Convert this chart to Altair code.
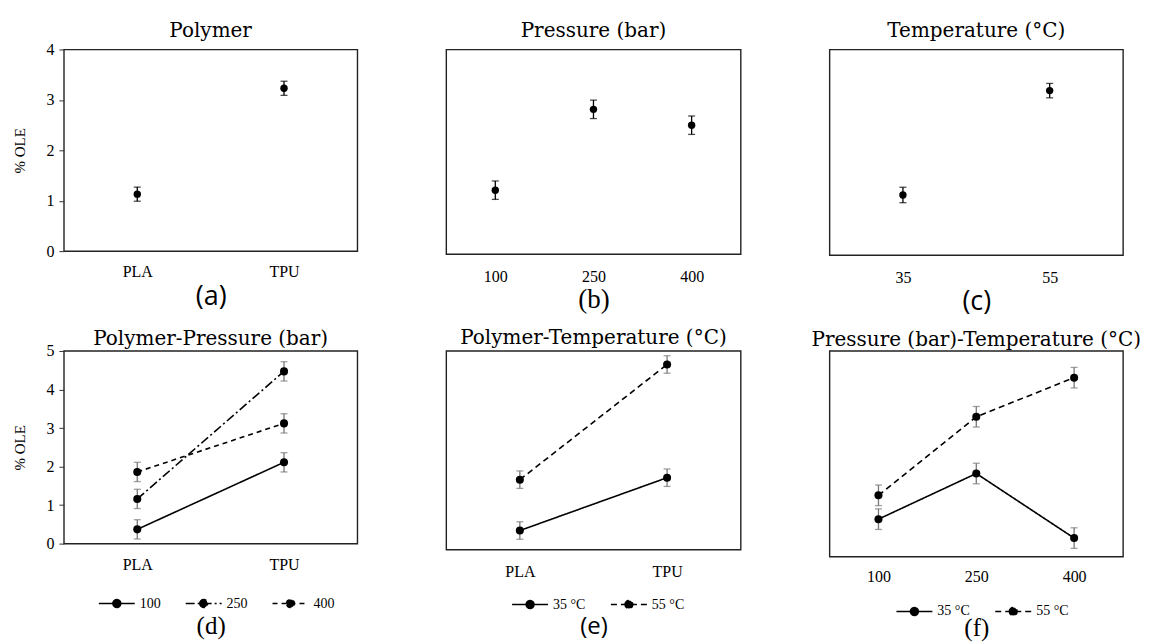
import altair as alt
import pandas as pd

# ---------------- data ----------------
polymer_cats = ["PLA", "TPU"]
polymer_ole = [1.13, 3.23]
polymer_err = [0.14, 0.14]

pressure_cats = ["100", "250", "400"]
pressure_ole = [1.25, 2.83, 2.52]
pressure_err = [0.18, 0.18, 0.18]

temp_cats = ["35", "55"]
temp_ole = [1.17, 3.20]
temp_err = [0.15, 0.14]

# (d) Polymer x Pressure
pp_series = ["100", "250", "400"]
pp_100 = [0.37, 2.11]
pp_250 = [1.16, 4.47]
pp_400 = [1.86, 3.12]
pp_err = 0.25

# (e) Polymer x Temperature
pt_series = ["35 °C", "55 °C"]
pt_35 = [0.48, 1.81]
pt_55 = [1.76, 4.66]
pt_err = 0.22

# (f) Pressure x Temperature
prt_series = ["35 °C", "55 °C"]
prt_35 = [0.91, 2.02, 0.45]
prt_55 = [1.49, 3.40, 4.35]
prt_err = 0.25

SERIF = "Liberation Serif"
TITLE_SERIF = "DejaVu Serif"
SANS = "Open Sans"

# legend glyph: a short line with a filled dot in the middle
LEG_PATH = "M-2,0L2,0M-0.44,0A0.44,0.44,0,1,1,0.44,0A0.44,0.44,0,1,1,-0.44,0Z"


def main_df(cats, vals, errs):
    return pd.DataFrame({
        "cat": cats,
        "ole": vals,
        "lo": [v - e for v, e in zip(vals, errs)],
        "hi": [v + e for v, e in zip(vals, errs)],
    })


def inter_df(cats, series_names, series_vals, err):
    rows = []
    for s, vals in zip(series_names, series_vals):
        for c, v in zip(cats, vals):
            rows.append({"cat": c, "series": s, "ole": v, "lo": v - err, "hi": v + err})
    return pd.DataFrame(rows)


def make_panel(df, cats, ymax, title, sub, sub_font, sub_size, width, height, show_y,
               title_offset, label_pad, sub_pad, err_color, pt_size,
               series=None, dashes=None, leg_xy=None):
    xaxis = alt.Axis(
        ticks=False, domain=False, grid=False, labelAngle=0,
        labelFont=SERIF, labelFontSize=16, labelColor="black", labelPadding=label_pad,
        title=sub, titleFont=sub_font, titleFontSize=sub_size, titleFontWeight="normal",
        titleColor="black", titlePadding=sub_pad,
    )
    x = alt.X("cat:N", scale=alt.Scale(type="point", domain=cats, padding=0.5), axis=xaxis)
    if show_y:
        yaxis = alt.Axis(
            values=list(range(0, ymax + 1)), format="d", grid=False, domain=False,
            ticks=True, tickSize=5, tickColor="#333", tickWidth=1,
            labelFont=SERIF, labelFontSize=16, labelColor="black", labelPadding=5,
            title="% OLE", titleFont=SERIF, titleFontSize=15, titleFontWeight="normal",
            titleColor="black", titlePadding=18,
        )
    else:
        yaxis = None
    yscale = alt.Scale(domain=[0, ymax], nice=False, zero=True)
    y = alt.Y("ole:Q", scale=yscale, axis=yaxis)

    base = alt.Chart(df)
    layers = []
    if series is not None:
        line = base.mark_line(color="black", strokeWidth=1.6).encode(
            x=x, y=y,
            strokeDash=alt.StrokeDash(
                "series:N",
                scale=alt.Scale(domain=series, range=dashes),
                legend=alt.Legend(
                    orient="none", legendX=leg_xy[0], legendY=leg_xy[1],
                    direction="horizontal", title=None,
                    symbolType=LEG_PATH, symbolSize=324,
                    symbolStrokeColor="black", symbolFillColor="black",
                    symbolStrokeWidth=1.5, symbolOpacity=1,
                    labelFont=SERIF, labelFontSize=14, labelColor="black",
                    labelOffset=13, columnPadding=22,
                ),
            ),
            detail="series:N",
        )
        layers.append(line)
    err = base.mark_errorbar(ticks={"size": 7}, color=err_color, thickness=1.3).encode(
        x=x,
        y=alt.Y("lo:Q", scale=yscale, axis=yaxis),
        y2="hi:Q",
    )
    pts = base.mark_point(filled=True, color="black", opacity=1, size=pt_size).encode(x=x, y=y)
    layers += [err, pts]
    return alt.layer(*layers).properties(
        width=width, height=height,
        title=alt.TitleParams(title, font=TITLE_SERIF, fontSize=20, fontWeight="normal",
                              color="black", offset=title_offset),
    )


pa = make_panel(main_df(polymer_cats, polymer_ole, polymer_err), polymer_cats, 4,
                "Polymer", "(a)", SANS, 27, 294, 202, True, 1, 12, 4, "black", 55)
pb = make_panel(main_df(pressure_cats, pressure_ole, pressure_err), pressure_cats, 4,
                "Pressure (bar)", "(b)", SERIF, 27, 295, 205, False, 9, 14, 2, "black", 55)
pc = make_panel(main_df(temp_cats, temp_ole, temp_err), temp_cats, 4,
                "Temperature (°C)", "(c)", SANS, 27, 294, 206, False, 9, 14, 3, "black", 55)

pd_ = make_panel(inter_df(polymer_cats, pp_series, [pp_100, pp_250, pp_400], pp_err),
                 polymer_cats, 5, "Polymer-Pressure (bar)", "(d)", SERIF, 25, 294, 193, True,
                 -6, 13, 41, "#777", 65,
                 series=pp_series, dashes=[[1, 0], [9, 3, 2, 3], [5, 4]], leg_xy=[43, 243])
pe = make_panel(inter_df(polymer_cats, pt_series, [pt_35, pt_55], pt_err),
                polymer_cats, 5, "Polymer-Temperature (°C)", "(e)", SANS, 24, 295, 199, False,
                3, 14, 35, "#777", 65,
                series=pt_series, dashes=[[1, 0], [6, 4]], leg_xy=[74, 244])
pf = make_panel(inter_df(pressure_cats, prt_series, [prt_35, prt_55], prt_err),
                pressure_cats, 5, "Pressure (bar)-Temperature (°C)", "(f)", SERIF, 25, 294, 206, False,
                1, 12, 31, "#777", 65,
                series=prt_series, dashes=[[1, 0], [6, 4]], leg_xy=[75, 251])

chart = alt.concat(
    pa, pb, pc, pd_, pe, pf,
    columns=3,
    spacing={"row": 96, "column": 89},
    bounds="flush",
    align="each",
).resolve_scale(
    x="independent", y="independent", strokeDash="independent"
).resolve_legend(
    strokeDash="independent"
).properties(
    padding={"left": 4, "top": 11, "right": 0, "bottom": 0},
    background="white",
).configure_title(
    fontWeight="normal"
).configure_view(
    stroke="#222", strokeWidth=1.4
)

chart.save("out.html", embed_options={"renderer": "svg", "actions": False})
